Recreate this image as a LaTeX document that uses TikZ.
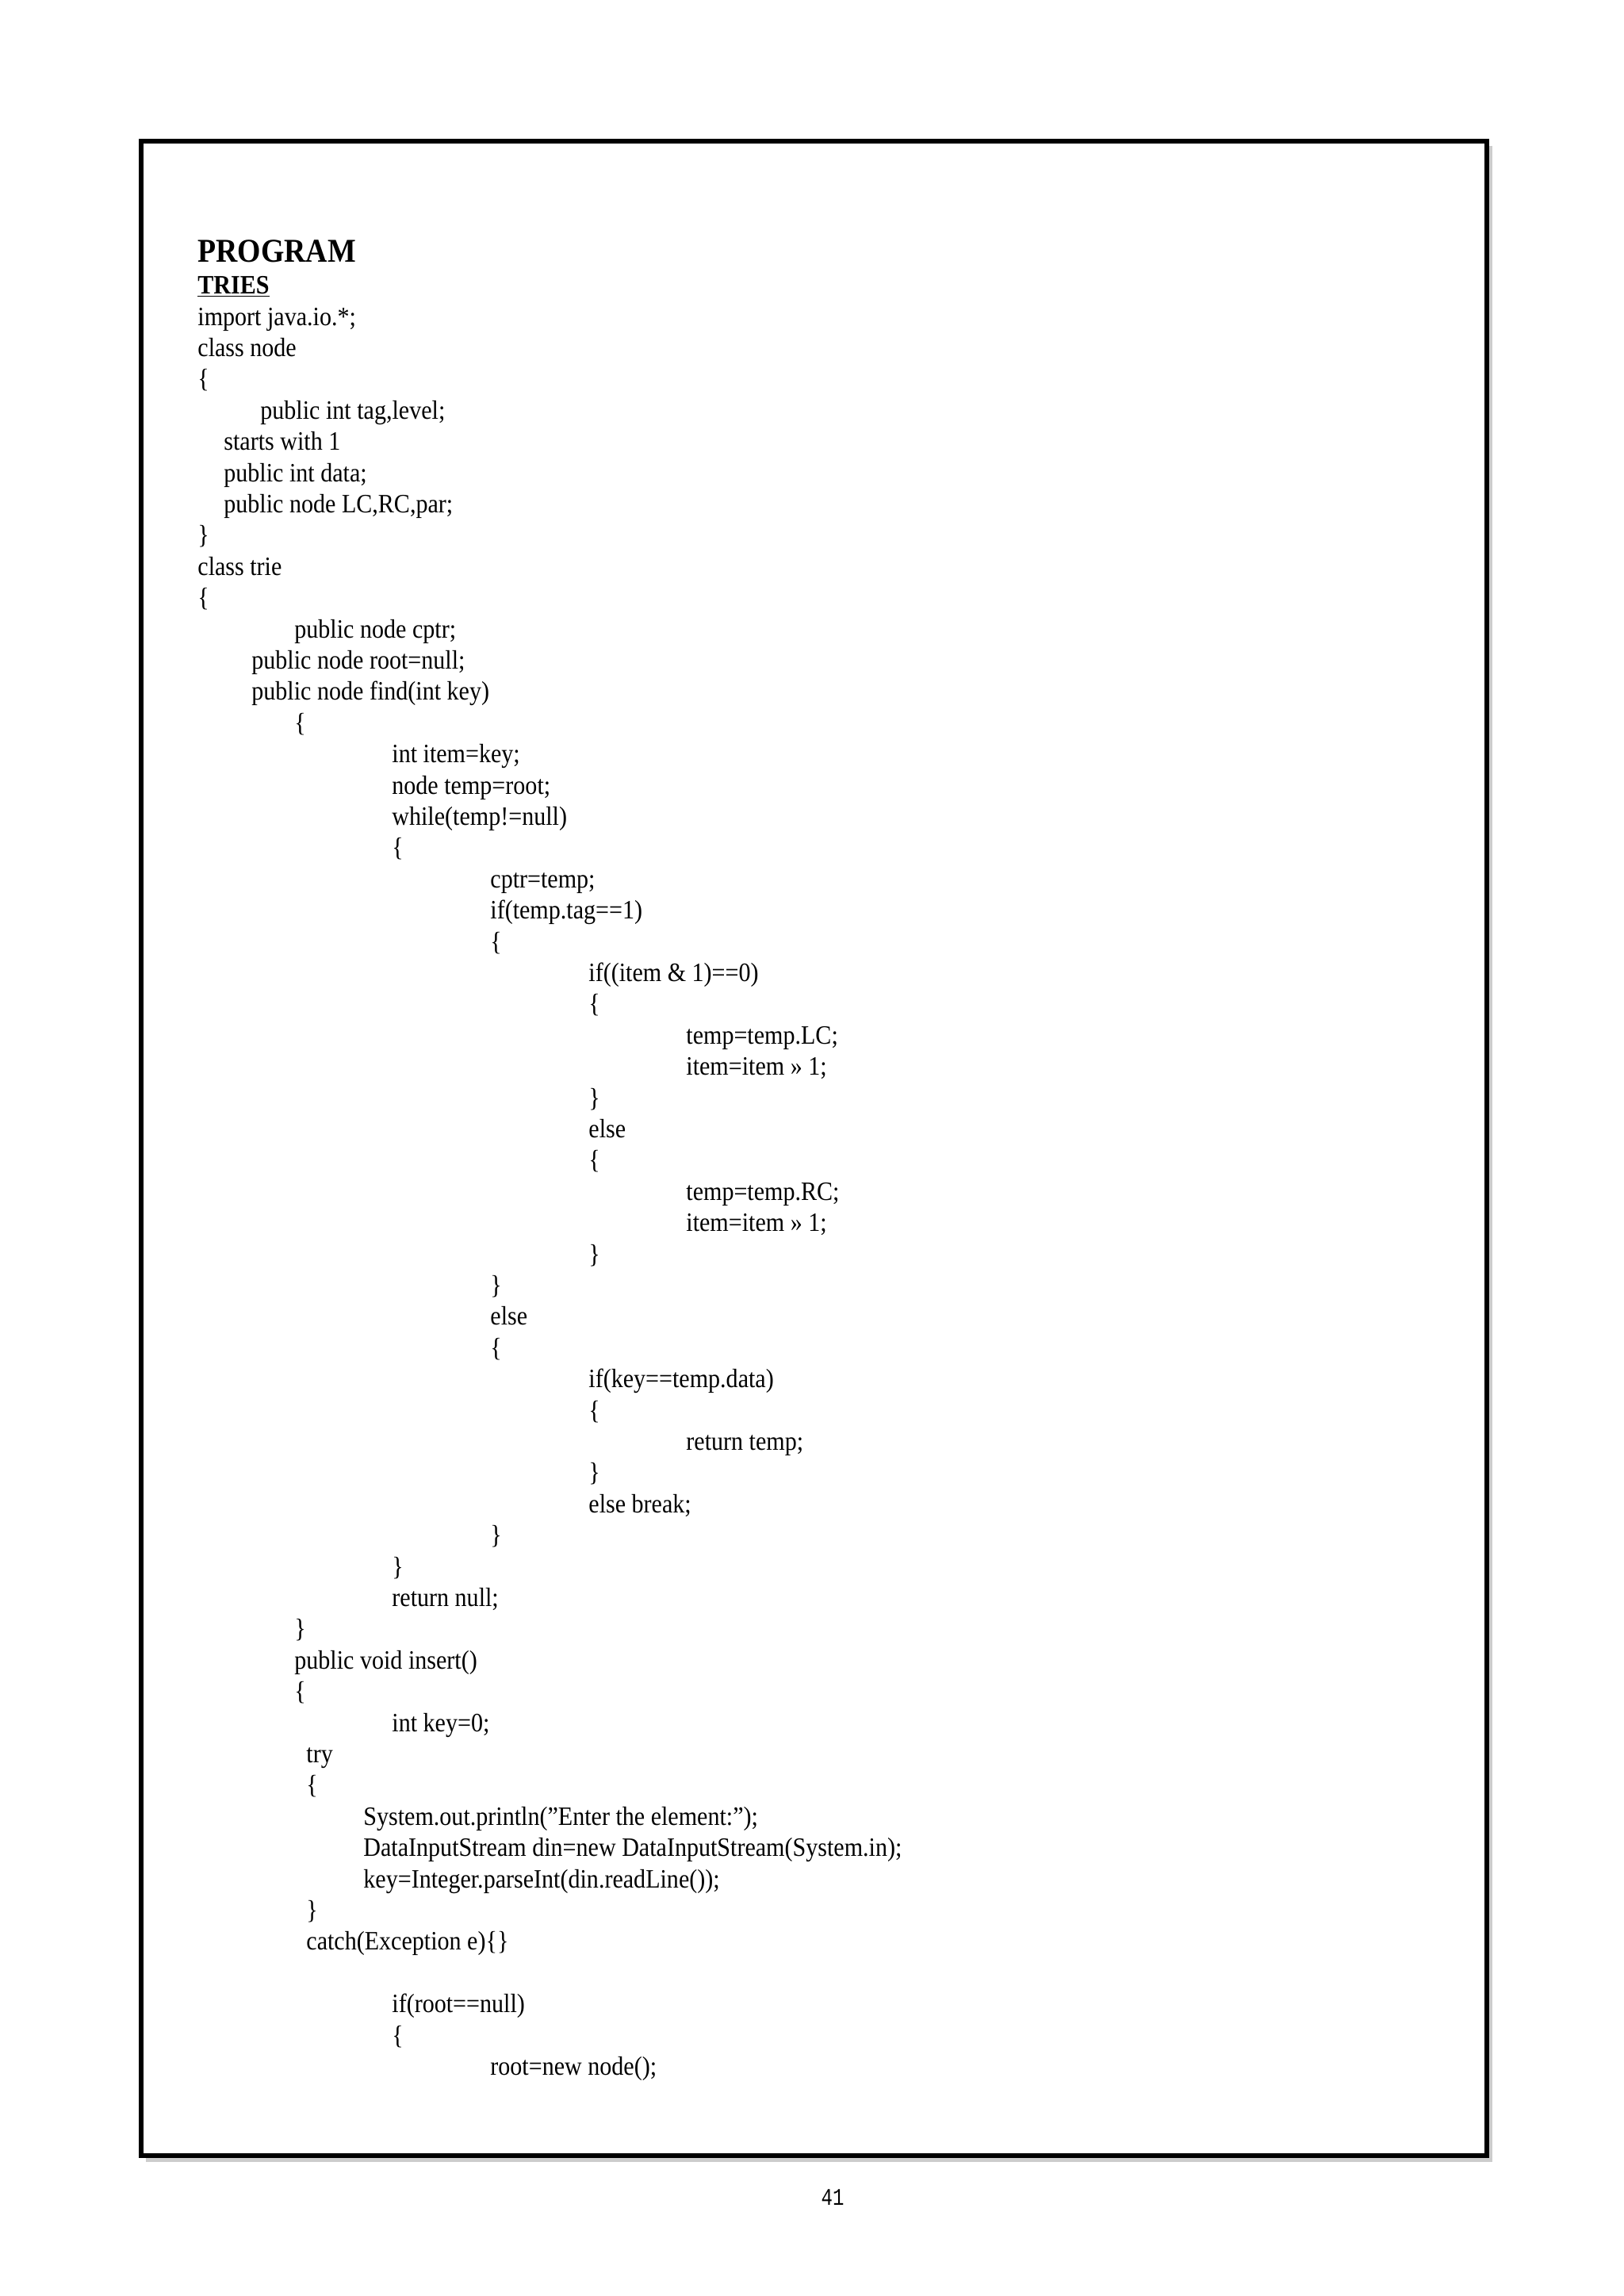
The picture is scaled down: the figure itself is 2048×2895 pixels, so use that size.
\documentclass[tikz,border=0pt]{standalone}
\usepackage{fontspec}
\setmainfont[FakeStretch=0.9]{Liberation Serif}
\newfontfamily\pgnum[FakeStretch=0.8]{Liberation Mono}
\begin{document}
\begin{tikzpicture}[x=0.5pt,y=-0.5pt,
  codeline/.style={anchor=base west,inner sep=0pt,font=\fontsize{16.7}{20}\selectfont}]
\useasboundingbox[fill=white] (0,0) rectangle (2048,2895);
\fill[gray!40] (184,184) rectangle (1882,2726);
\draw[line width=3pt,fill=white] (178,178) rectangle (1875,2718);
\newcommand\CL[3]{\node[codeline] (l#1) at (#2,{410+39.4*#1}) {#3};}
\node[codeline,font=\fontsize{21}{24}\selectfont\bfseries] (prog) at (249,330) {PROGRAM};
\node[codeline,font=\fontsize{16.7}{20}\selectfont\bfseries] (tries) at (249,370) {\underline{TRIES}};
\CL{0}{249}{import java.io.*;}
\CL{1}{249}{class node}
\CL{2}{249}{\{}
\CL{3}{328}{public int tag,level;}
\CL{4}{282}{starts with 1}
\CL{5}{282}{public int data;}
\CL{6}{282}{public node LC,RC,par;}
\CL{7}{249}{\}}
\CL{8}{249}{class trie}
\CL{9}{249}{\{}
\CL{10}{371}{public node cptr;}
\CL{11}{317}{public node root=null;}
\CL{12}{317}{public node find(int key)}
\CL{13}{371}{\{}
\CL{14}{494}{int item=key;}
\CL{15}{494}{node temp=root;}
\CL{16}{494}{while(temp!=null)}
\CL{17}{494}{\{}
\CL{18}{618}{cptr=temp;}
\CL{19}{618}{if(temp.tag==1)}
\CL{20}{618}{\{}
\CL{21}{742}{if((item \& 1)==0)}
\CL{22}{742}{\{}
\CL{23}{865}{temp=temp.LC;}
\CL{24}{865}{item=item >> 1;}
\CL{25}{742}{\}}
\CL{26}{742}{else}
\CL{27}{742}{\{}
\CL{28}{865}{temp=temp.RC;}
\CL{29}{865}{item=item >> 1;}
\CL{30}{742}{\}}
\CL{31}{618}{\}}
\CL{32}{618}{else}
\CL{33}{618}{\{}
\CL{34}{742}{if(key==temp.data)}
\CL{35}{742}{\{}
\CL{36}{865}{return temp;}
\CL{37}{742}{\}}
\CL{38}{742}{else break;}
\CL{39}{618}{\}}
\CL{40}{494}{\}}
\CL{41}{494}{return null;}
\CL{42}{371}{\}}
\CL{43}{371}{public void insert()}
\CL{44}{371}{\{}
\CL{45}{494}{int key=0;}
\CL{46}{386}{try}
\CL{47}{386}{\{}
\CL{48}{458}{System.out.println("Enter the element:");}
\CL{49}{458}{DataInputStream din=new DataInputStream(System.in);}
\CL{50}{458}{key=Integer.parseInt(din.readLine());}
\CL{51}{386}{\}}
\CL{52}{386}{catch(Exception e)\{\}}
\CL{54}{494}{if(root==null)}
\CL{55}{494}{\{}
\CL{56}{618}{root=new node();}
\node[anchor=base,inner sep=0pt,font=\pgnum\fontsize{15}{18}\selectfont] (pnum) at (1050,2780) {41};
\end{tikzpicture}
\end{document}
